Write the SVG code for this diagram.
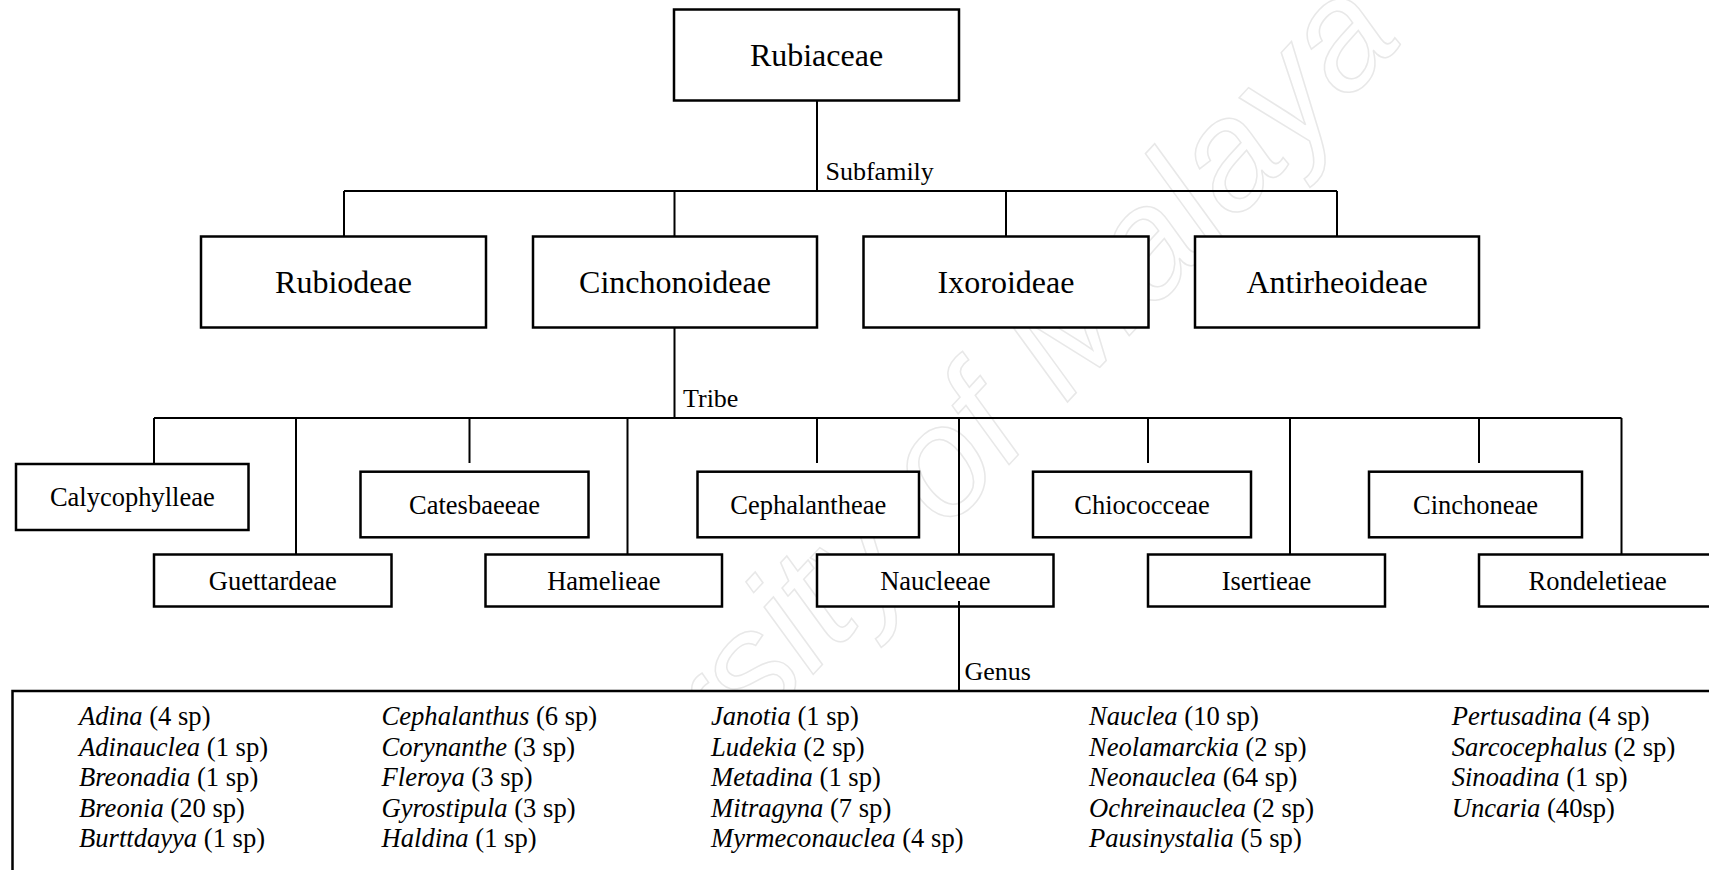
<svg xmlns="http://www.w3.org/2000/svg" width="1709" height="870" viewBox="0 0 1709 870">
<style>
.box{fill:#fff;stroke:#000;stroke-width:2.5}
.ln{stroke:#000;stroke-width:2;fill:none}
.t1{font-family:"Liberation Serif","Times New Roman",serif;font-size:32px;text-anchor:middle;fill:#000}
.t2{font-family:"Liberation Serif","Times New Roman",serif;font-size:26.5px;text-anchor:middle;fill:#000}
.lbl{font-family:"Liberation Serif","Times New Roman",serif;font-size:26px;fill:#000;stroke:none}
.g{font-family:"Liberation Serif","Times New Roman",serif;font-size:26.6px;fill:#000}
.i{font-style:italic}
.wm{font-family:"Liberation Sans",Arial,sans-serif;font-style:italic;font-size:155px;fill:none;stroke:#e8e8e8;stroke-width:1.5;text-anchor:end}
</style>
<rect width="1709" height="870" fill="#fff"/>

<text class="wm" x="1405" y="40" transform="rotate(-47 1405 40)">University of Malaya</text>

<g id="rubiaceae"><rect class="box" x="674" y="9.5" width="285" height="91"/><text class="t1" x="816.5" y="65.5">Rubiaceae</text></g>

<g id="rubiodeae"><rect class="box" x="201" y="236.5" width="285" height="91"/><text class="t1" x="343.5" y="293">Rubiodeae</text></g>
<g id="cinchonoideae"><rect class="box" x="533" y="236.5" width="284" height="91"/><text class="t1" x="675" y="293">Cinchonoideae</text></g>
<g id="ixoroideae"><rect class="box" x="863.5" y="236.5" width="285" height="91"/><text class="t1" x="1006" y="293">Ixoroideae</text></g>
<g id="antirheoideae"><rect class="box" x="1195" y="236.5" width="284" height="91"/><text class="t1" x="1337" y="293">Antirheoideae</text></g>

<g id="calycophylleae"><rect class="box" x="16" y="464" width="232.5" height="66"/><text class="t2" x="132.3" y="506">Calycophylleae</text></g>
<g id="catesbaeeae"><rect class="box" x="360.5" y="471.7" width="228" height="65.6"/><text class="t2" x="474.5" y="513.5">Catesbaeeae</text></g>
<g id="cephalantheae"><rect class="box" x="697.5" y="471.7" width="221.5" height="65.6"/><text class="t2" x="808.3" y="513.5">Cephalantheae</text></g>
<g id="chiococceae"><rect class="box" x="1033" y="471.7" width="218" height="65.6"/><text class="t2" x="1142" y="513.5">Chiococceae</text></g>
<g id="cinchoneae"><rect class="box" x="1369" y="471.7" width="213" height="65.6"/><text class="t2" x="1475.5" y="513.5">Cinchoneae</text></g>

<g id="guettardeae"><rect class="box" x="154" y="554.5" width="237.5" height="52"/><text class="t2" x="272.8" y="589.5">Guettardeae</text></g>
<g id="hamelieae"><rect class="box" x="485.5" y="554.5" width="236.5" height="52"/><text class="t2" x="603.8" y="589.5">Hamelieae</text></g>
<g id="naucleeae"><rect class="box" x="817" y="554.5" width="236.5" height="52"/><text class="t2" x="935.3" y="589.5">Naucleeae</text></g>
<g id="isertieae"><rect class="box" x="1148" y="554.5" width="237" height="52"/><text class="t2" x="1266.5" y="589.5">Isertieae</text></g>
<g id="rondeletieae"><rect class="box" x="1479" y="554.5" width="237" height="52"/><text class="t2" x="1597.7" y="589.5">Rondeletieae</text></g>

<g id="genus-list">
<rect class="box" x="12.5" y="691" width="1720" height="220"/>
<text class="g" x="79" y="725"><tspan class="i">Adina</tspan> (4 sp)</text>
<text class="g" x="79" y="755.6"><tspan class="i">Adinauclea</tspan> (1 sp)</text>
<text class="g" x="79" y="786.2"><tspan class="i">Breonadia</tspan> (1 sp)</text>
<text class="g" x="79" y="816.8"><tspan class="i">Breonia</tspan> (20 sp)</text>
<text class="g" x="79" y="847.4"><tspan class="i">Burttdayya</tspan> (1 sp)</text>
<text class="g" x="381.5" y="725"><tspan class="i">Cephalanthus</tspan> (6 sp)</text>
<text class="g" x="381.5" y="755.6"><tspan class="i">Corynanthe</tspan> (3 sp)</text>
<text class="g" x="381.5" y="786.2"><tspan class="i">Fleroya</tspan> (3 sp)</text>
<text class="g" x="381.5" y="816.8"><tspan class="i">Gyrostipula</tspan> (3 sp)</text>
<text class="g" x="381.5" y="847.4"><tspan class="i">Haldina</tspan> (1 sp)</text>
<text class="g" x="711" y="725"><tspan class="i">Janotia</tspan> (1 sp)</text>
<text class="g" x="711" y="755.6"><tspan class="i">Ludekia</tspan> (2 sp)</text>
<text class="g" x="711" y="786.2"><tspan class="i">Metadina</tspan> (1 sp)</text>
<text class="g" x="711" y="816.8"><tspan class="i">Mitragyna</tspan> (7 sp)</text>
<text class="g" x="711" y="847.4"><tspan class="i">Myrmeconauclea</tspan> (4 sp)</text>
<text class="g" x="1089" y="725"><tspan class="i">Nauclea</tspan> (10 sp)</text>
<text class="g" x="1089" y="755.6"><tspan class="i">Neolamarckia</tspan> (2 sp)</text>
<text class="g" x="1089" y="786.2"><tspan class="i">Neonauclea</tspan> (64 sp)</text>
<text class="g" x="1089" y="816.8"><tspan class="i">Ochreinauclea</tspan> (2 sp)</text>
<text class="g" x="1089" y="847.4"><tspan class="i">Pausinystalia</tspan> (5 sp)</text>
<text class="g" x="1451.7" y="725"><tspan class="i">Pertusadina</tspan> (4 sp)</text>
<text class="g" x="1451.7" y="755.6"><tspan class="i">Sarcocephalus</tspan> (2 sp)</text>
<text class="g" x="1451.7" y="786.2"><tspan class="i">Sinoadina</tspan> (1 sp)</text>
<text class="g" x="1451.7" y="816.8"><tspan class="i">Uncaria</tspan> (40sp)</text>
</g>

<g id="connectors">
<path class="ln" d="M817 100.5 V191 M344 191 H1337 M344 191 V236.5 M674.5 191 V236.5 M1006 191 V236.5 M1337 191 V236.5"/>
<path class="ln" d="M674.5 327.5 V418 M154 418 H1621.5 M154 418 V464 M469.5 418 V463 M817 418 V463 M1148 418 V463 M1479 418 V463"/>
<path class="ln" d="M296 418 V554.5 M627.5 418 V554.5 M959 418 V554.5 M1290 418 V554.5 M1621.5 418 V554.5"/>
<path class="ln" d="M959 601 V691"/>
<text class="lbl" x="825.5" y="179.5">Subfamily</text>
<text class="lbl" x="683" y="406.5">Tribe</text>
<text class="lbl" x="964.5" y="680">Genus</text>
</g>
</svg>
